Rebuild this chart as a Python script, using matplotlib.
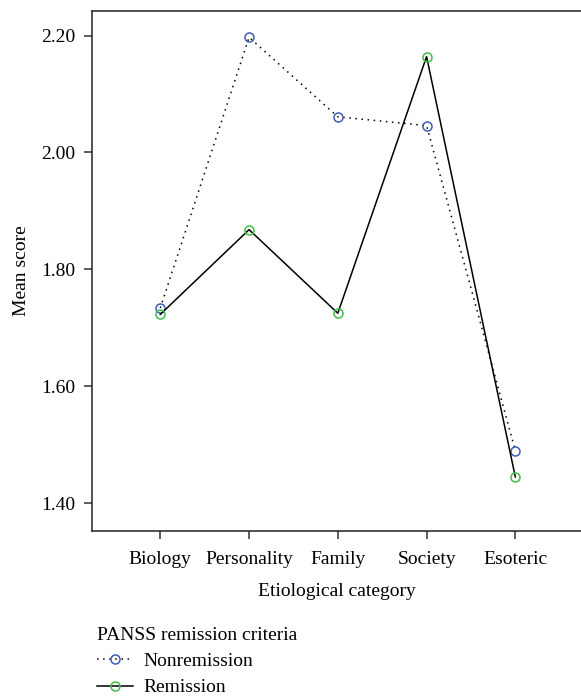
import matplotlib

matplotlib.use("Agg")
import matplotlib.pyplot as plt

categories = ["Biology", "Personality", "Family", "Society", "Esoteric"]
nonremission = [1.734, 2.197, 2.061, 2.046, 1.490]
remission = [1.723, 1.868, 1.725, 2.164, 1.445]
y_ticks = [1.40, 1.60, 1.80, 2.00, 2.20]

plt.rcParams["font.family"] = ["Liberation Serif", "DejaVu Serif"]

fig = plt.figure(figsize=(5.81, 6.96), dpi=100)
ax = fig.add_axes([0.1583, 0.2375, 0.8417, 0.7467])

x = list(range(len(categories)))
ax.plot(x, nonremission, linestyle=(0, (1, 3)), color="black", linewidth=1.1,
        marker="o", markersize=6.5, markerfacecolor="none",
        markeredgecolor="#3f5cb8", markeredgewidth=1.1, label="Nonremission")
ax.plot(x, remission, linestyle="-", color="black", linewidth=1.1,
        marker="o", markersize=6.5, markerfacecolor="none",
        markeredgecolor="#3fbf4a", markeredgewidth=1.1, label="Remission")

ax.set_xlim(-0.77, 4.74)
ax.set_ylim(1.353, 2.242)
ax.set_xticks(x)
ax.set_xticklabels(categories)
ax.set_yticks(y_ticks)
ax.set_yticklabels([f"{v:.2f}" for v in y_ticks])
ax.tick_params(axis="both", direction="out", length=6, width=1.1,
               labelsize=14, color="#333333")
ax.tick_params(axis="y", pad=6)
ax.tick_params(axis="x", pad=8.5)
ax.spines["right"].set_visible(False)
for side in ("left", "bottom", "top"):
    ax.spines[side].set_linewidth(1.1)
    ax.spines[side].set_color("#222222")

ax.set_xlabel("Etiological category", fontsize=14, labelpad=11)
ax.set_ylabel("Mean score", fontsize=14, labelpad=8)

leg = fig.legend(loc="upper left", bbox_to_anchor=(0.150, 0.1135), frameon=False,
                 title="PANSS remission criteria", fontsize=14,
                 title_fontsize=14, handlelength=1.85, handletextpad=0.55,
                 labelspacing=0.45, borderpad=0.0)
leg._legend_box.align = "left"

fig.savefig("out.png", dpi=100)
